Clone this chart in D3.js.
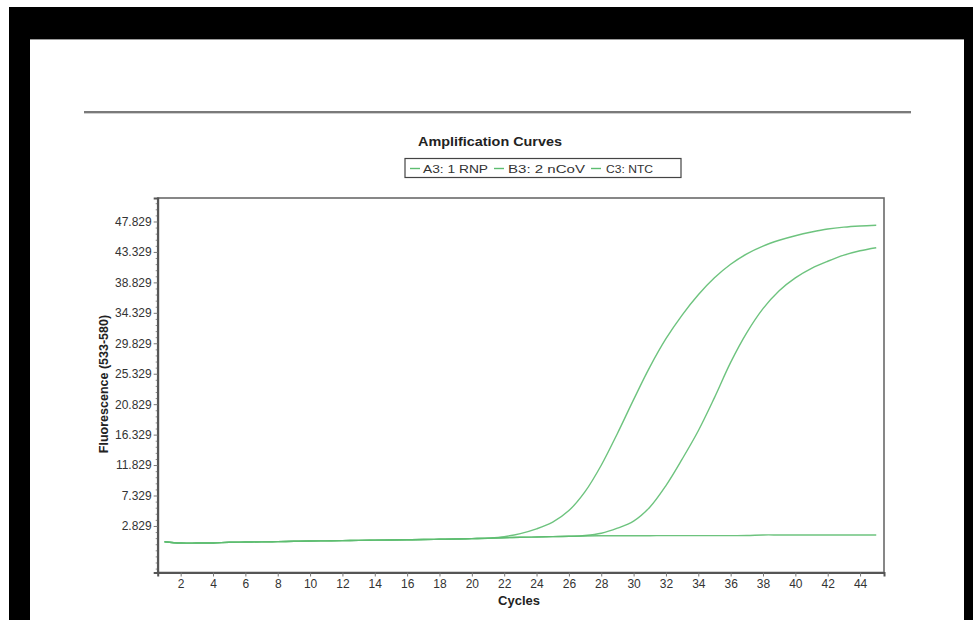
<!DOCTYPE html>
<html>
<head>
<meta charset="utf-8">
<script src="https://cdn.jsdelivr.net/npm/d3@7"></script>
<style>
  html, body { margin: 0; padding: 0; background: #fff; }
  svg { display: block; font-family: "Liberation Sans", Arial, sans-serif; }
</style>
</head>
<body>
<svg id="chart" width="973" height="620"></svg>
<script>
// ---- data ----
const cycles = d3.range(1, 46);
const rnp = [0.5, 0.3, 0.3, 0.32, 0.42, 0.45, 0.48, 0.52, 0.56, 0.6, 0.63, 0.66, 0.7, 0.73, 0.76, 0.79, 0.82, 0.86, 0.9, 0.95, 1.05, 1.25, 1.7, 2.4, 3.4, 5.1, 7.9, 11.8, 16.5, 21.5, 26.3, 30.5, 34.0, 37.0, 39.5, 41.5, 43.05, 44.2, 45.05, 45.72, 46.27, 46.72, 47.0, 47.17, 47.28];
const ncov = [0.5, 0.3, 0.3, 0.32, 0.42, 0.45, 0.48, 0.52, 0.56, 0.6, 0.63, 0.66, 0.7, 0.73, 0.76, 0.79, 0.82, 0.86, 0.9, 0.95, 1.0, 1.08, 1.15, 1.2, 1.25, 1.3, 1.42, 1.75, 2.5, 3.55, 5.6, 8.8, 12.7, 16.9, 21.8, 27.0, 31.4, 34.95, 37.6, 39.5, 40.9, 41.95, 42.85, 43.5, 43.95];
const ntc = [0.5, 0.3, 0.3, 0.32, 0.42, 0.45, 0.48, 0.52, 0.56, 0.6, 0.63, 0.66, 0.7, 0.73, 0.76, 0.79, 0.82, 0.86, 0.9, 0.95, 1.0, 1.08, 1.15, 1.2, 1.25, 1.3, 1.35, 1.38, 1.39, 1.39, 1.39, 1.4, 1.4, 1.4, 1.4, 1.4, 1.41, 1.5, 1.5, 1.5, 1.5, 1.5, 1.5, 1.5, 1.5];
const seriesNames = ["A3: 1 RNP", "B3: 2 nCoV", "C3: NTC"];
const yTickValues = [2.829, 7.329, 11.829, 16.329, 20.829, 25.329, 29.829, 34.329, 38.829, 43.329, 47.829];
const xTickValues = d3.range(2, 45, 2);
const titleText = "Amplification Curves";
const xLabel = "Cycles";
const yLabel = "Fluorescence (533-580)";

const series = [rnp, ncov, ntc].map((vals, i) => ({
  name: seriesNames[i],
  points: cycles.map((c, j) => ({ c, v: vals[j] }))
}));

const green = "#5dbd70";
const svg = d3.select("#chart");

// ---- frame (photo border) ----
svg.append("rect").attr("x", 0).attr("y", 0).attr("width", 973).attr("height", 620).attr("fill", "#fff");
svg.append("rect").attr("x", 9).attr("y", 7).attr("width", 964).attr("height", 613).attr("fill", "#000");
svg.append("rect").attr("x", 30).attr("y", 39).attr("width", 934).attr("height", 581).attr("fill", "#fff");
svg.append("line").attr("x1", 30).attr("x2", 964).attr("y1", 39.5).attr("y2", 39.5)
  .attr("stroke", "#9a9a9a").attr("stroke-width", 1);

// separator line
svg.append("line").attr("x1", 84).attr("x2", 911).attr("y1", 112).attr("y2", 112)
  .attr("stroke", "#7a7a7a").attr("stroke-width", 2);
svg.append("line").attr("x1", 84).attr("x2", 911).attr("y1", 113.5).attr("y2", 113.5)
  .attr("stroke", "#cfcfcf").attr("stroke-width", 1);

// ---- scales ----
const plot = { left: 157.7, right: 884, top: 198, bottom: 572.5 };
const x = d3.scaleLinear().domain([0.58, 45.48]).range([plot.left, plot.right]);
const y = d3.scaleLinear().domain([-4.05, 51.3]).range([plot.bottom, plot.top]);

// plot box
svg.append("rect")
  .attr("x", plot.left).attr("y", plot.top)
  .attr("width", plot.right - plot.left).attr("height", plot.bottom - plot.top)
  .attr("fill", "#fff").attr("stroke", "#6a6a6a").attr("stroke-width", 1.6);

// ---- axes ----
const yMinor = [];
for (let v = 2.829 - 0.9 * 7; v <= 51.3; v += 0.9) {
  if (v >= -4.05 && !yTickValues.some(t => Math.abs(t - v) < 1e-6)) yMinor.push(v);
}
const yMinorAxis = svg.append("g").attr("transform", `translate(${plot.left},0)`)
  .call(d3.axisLeft(y).tickValues(yMinor).tickSize(2).tickFormat(""));
yMinorAxis.select(".domain").remove();
yMinorAxis.selectAll("line").attr("stroke", "#888");

const yAxis = svg.append("g").attr("transform", `translate(${plot.left},0)`)
  .call(d3.axisLeft(y).tickValues(yTickValues).tickSize(4).tickPadding(2).tickFormat(d3.format(".3f")));
yAxis.select(".domain").attr("stroke", "#555").attr("stroke-width", 2);
yAxis.selectAll("line").attr("stroke", "#777");
yAxis.selectAll("text").attr("fill", "#333").style("font-size", "12px");

const xAxis = svg.append("g").attr("transform", `translate(0,${plot.bottom})`)
  .call(d3.axisBottom(x).tickValues(xTickValues).tickSize(4).tickPadding(3).tickFormat(d3.format("d")));
xAxis.select(".domain").attr("stroke", "#555").attr("stroke-width", 2);
xAxis.selectAll("line").attr("stroke", "#777");
xAxis.selectAll("text").attr("fill", "#333").style("font-size", "12px");

// axis labels
svg.append("text").attr("x", 519).attr("y", 605).attr("text-anchor", "middle")
  .attr("font-weight", "bold").attr("font-size", 13).attr("fill", "#222").text(xLabel);
svg.append("text").attr("transform", "translate(108,384) rotate(-90)").attr("text-anchor", "middle")
  .attr("font-weight", "bold").attr("font-size", 12.5).attr("fill", "#222").text(yLabel);

// ---- curves ----
const line = d3.line().x(d => x(d.c)).y(d => y(d.v)).curve(d3.curveCatmullRom.alpha(0.5));
svg.append("g").selectAll("path").data(series).join("path")
  .attr("d", d => line(d.points))
  .attr("fill", "none").attr("stroke", green).attr("stroke-width", 1.4)
  .attr("stroke-opacity", 0.9);

// ---- title & legend ----
svg.append("text").attr("x", 490).attr("y", 146).attr("text-anchor", "middle")
  .attr("font-weight", "bold").attr("font-size", 12.5).attr("fill", "#222")
  .attr("textLength", 144).attr("lengthAdjust", "spacingAndGlyphs").text(titleText);

svg.append("rect").attr("x", 405).attr("y", 158.5).attr("width", 276).attr("height", 19)
  .attr("fill", "#fff").attr("stroke", "#444").attr("stroke-width", 1.2);
const legendItems = [
  { dash: 410, text: 423, w: 65 },
  { dash: 494, text: 508, w: 77 },
  { dash: 591, text: 606, w: 47 }
];
const lg = svg.append("g").selectAll("g").data(seriesNames).join("g");
lg.append("line")
  .attr("x1", (d, i) => legendItems[i].dash).attr("x2", (d, i) => legendItems[i].dash + 10)
  .attr("y1", 168.5).attr("y2", 168.5).attr("stroke", green).attr("stroke-width", 1.4);
lg.append("text")
  .attr("x", (d, i) => legendItems[i].text).attr("y", 172.5)
  .attr("font-size", 11.5).attr("fill", "#333")
  .attr("textLength", (d, i) => legendItems[i].w).attr("lengthAdjust", "spacingAndGlyphs")
  .text(d => d);
</script>
</body>
</html>
